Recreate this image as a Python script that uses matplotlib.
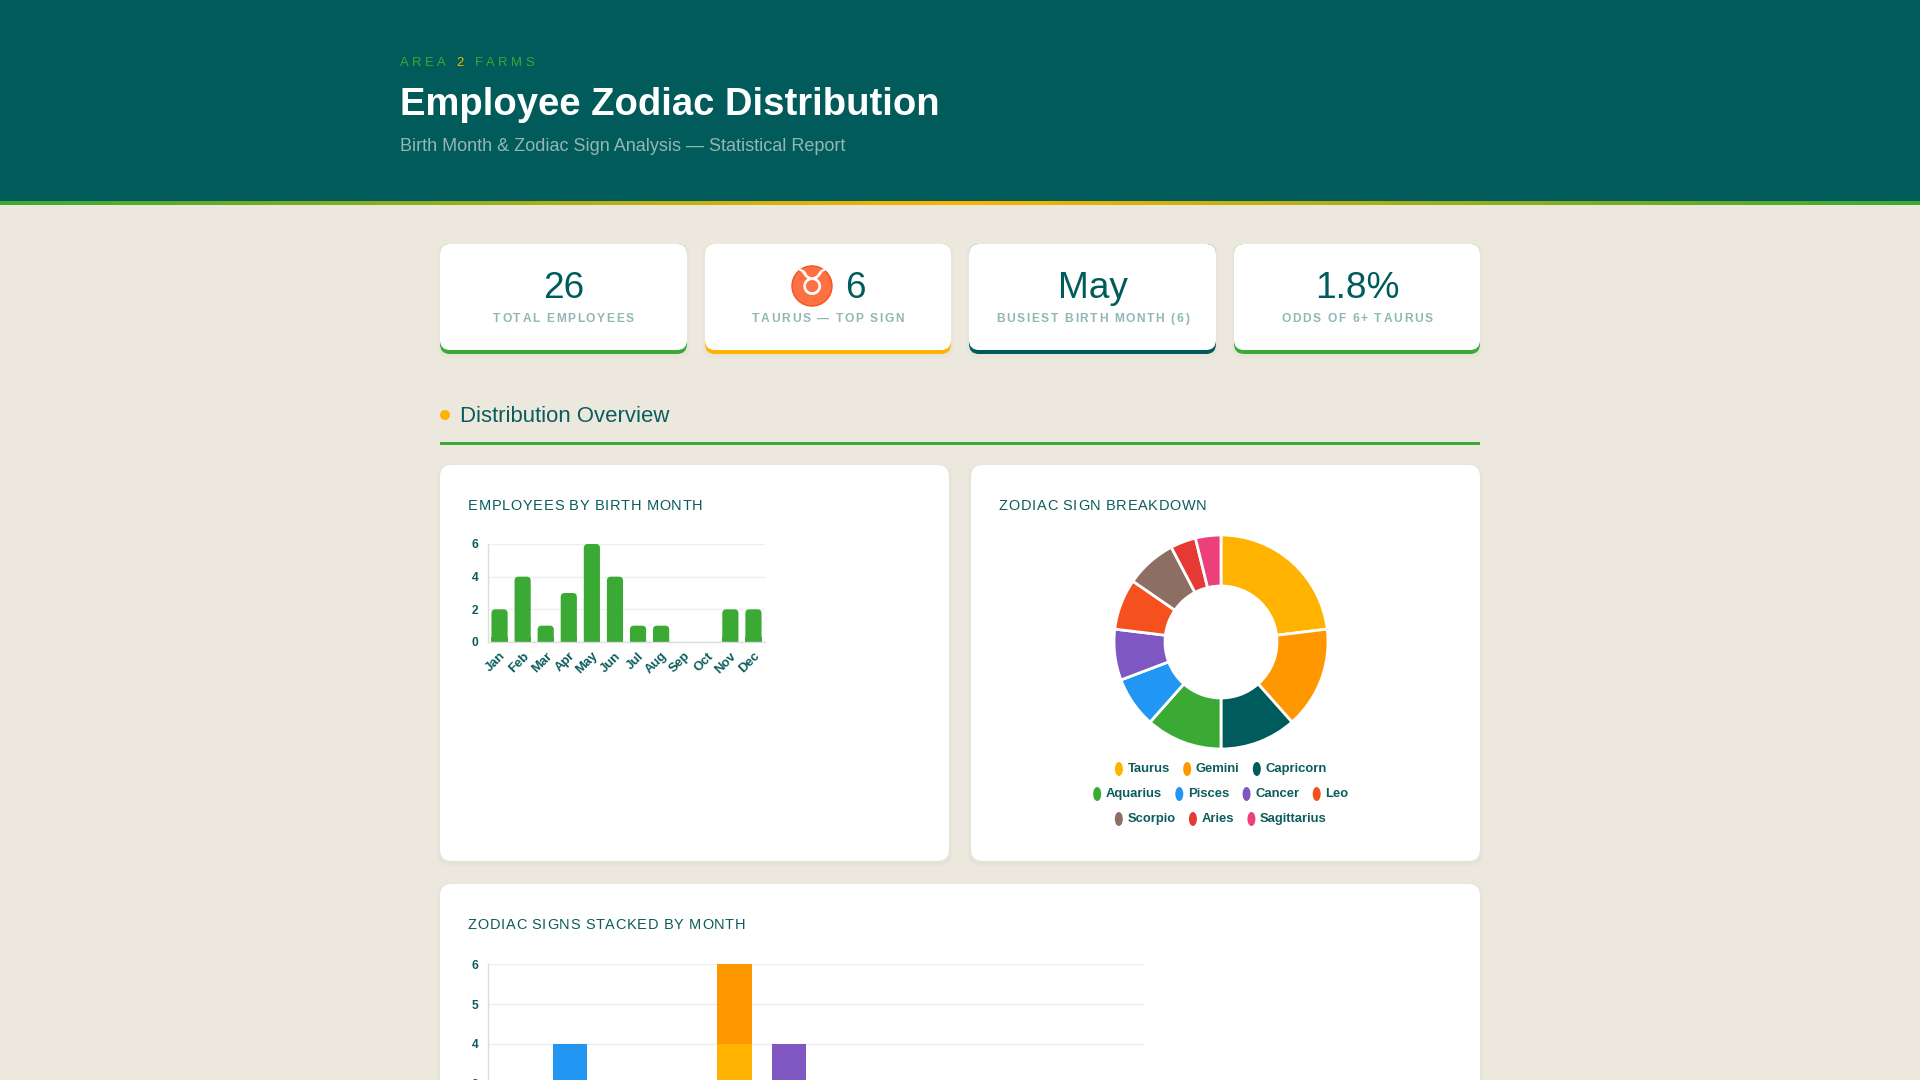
import matplotlib
matplotlib.use("Agg")
import matplotlib.pyplot as plt
from matplotlib.patches import FancyBboxPatch, Circle, Ellipse, Rectangle
from matplotlib.colors import LinearSegmentedColormap
from matplotlib.font_manager import FontProperties
import numpy as np

# ---- data ----
months = ["Jan", "Feb", "Mar", "Apr", "May", "Jun", "Jul", "Aug", "Sep", "Oct", "Nov", "Dec"]
month_counts = [2, 4, 1, 3, 6, 4, 1, 1, 0, 0, 2, 2]

signs = ["Taurus", "Gemini", "Capricorn", "Aquarius", "Pisces", "Cancer", "Leo", "Scorpio", "Aries", "Sagittarius"]
sign_counts = [6, 4, 3, 3, 2, 2, 2, 2, 1, 1]
sign_colors = ["#FFB300", "#FF9800", "#005C5C", "#3AAA35", "#2196F3", "#7E57C2", "#F4511E", "#8D6E63", "#E53935", "#EC407A"]

# per-sign counts by month (Jan..Dec)
by_month = {
    "Taurus":      [0, 0, 0, 2, 4, 0, 0, 0, 0, 0, 0, 0],
    "Gemini":      [0, 0, 0, 0, 2, 2, 0, 0, 0, 0, 0, 0],
    "Capricorn":   [2, 0, 0, 0, 0, 0, 0, 0, 0, 0, 0, 1],
    "Aquarius":    [0, 3, 0, 0, 0, 0, 0, 0, 0, 0, 0, 0],
    "Pisces":      [0, 1, 1, 0, 0, 0, 0, 0, 0, 0, 0, 0],
    "Cancer":      [0, 0, 0, 0, 0, 2, 0, 0, 0, 0, 0, 0],
    "Leo":         [0, 0, 0, 0, 0, 0, 1, 1, 0, 0, 0, 0],
    "Scorpio":     [0, 0, 0, 0, 0, 0, 0, 0, 0, 0, 2, 0],
    "Aries":       [0, 0, 0, 1, 0, 0, 0, 0, 0, 0, 0, 0],
    "Sagittarius": [0, 0, 0, 0, 0, 0, 0, 0, 0, 0, 0, 1],
}

kpi_values = ["26", "6", "May", "1.8%"]
kpi_labels = ["TOTAL EMPLOYEES", "TAURUS \u2014 TOP SIGN", "BUSIEST BIRTH MONTH (6)", "ODDS OF 6+ TAURUS"]
kpi_colors = ["#3AAA35", "#FFB300", "#005C5C", "#3AAA35"]

# ---- style ----
W, H = 1920, 1080
BG = "#ECE8DE"
TEAL = "#005C5C"
TXT = "#0B5C5C"
GREEN = "#3AAA35"
AMBER = "#FFB300"
MUTED = "#8FB8B4"
FONT = "Liberation Sans"
plt.rcParams["font.family"] = [FONT, "DejaVu Sans"]

fig = plt.figure(figsize=(19.2, 10.8), dpi=100, facecolor=BG)
renderer = fig.canvas.get_renderer()


def pt(px):
    return px * 0.72


def fx(x):
    return x / W


def fy(y):
    return 1 - y / H


def rrect(x0, y0, x1, y1, r, color, z=1, alpha=1.0):
    p = FancyBboxPatch((x0 + r, H - y1 + r), x1 - x0 - 2 * r, y1 - y0 - 2 * r,
                       boxstyle=f"round,pad={r}", transform=None, fc=color, ec="none",
                       zorder=z, alpha=alpha)
    fig.patches.append(p)


def card(x0, y0, x1, y1, r=12):
    for i, a in enumerate([0.025, 0.025, 0.02]):
        rrect(x0 - 2 - i, y0 + 1 - i, x1 + 2 + i, y1 + 4 + i, r + 2, "#B8A98A", z=0.5, alpha=a)
    rrect(x0, y0, x1, y1, r, "white", z=1)


def spaced(x, y, s, size, color, spacing, weight="normal", ha="left", colors=None):
    fp = FontProperties(family=FONT, size=pt(size), weight=weight)
    widths = [renderer.get_text_width_height_descent(c, fp, ismath=False)[0] for c in s]
    total = sum(widths) + spacing * (len(s) - 1)
    if ha == "center":
        x = x - total / 2
    for i, c in enumerate(s):
        col = colors[i] if colors else color
        fig.text(fx(x), fy(y), c, fontproperties=fp, color=col, va="baseline", ha="left")
        x += widths[i] + spacing


# ---- header ----
fig.patches.append(Rectangle((0, fy(201)), 1, 1 - fy(201), transform=fig.transFigure,
                             fc="#015B5B", ec="none", zorder=0))
gax = fig.add_axes([0, fy(205), 1, (205 - 201) / H])
gcm = LinearSegmentedColormap.from_list("g", [GREEN, AMBER, GREEN])
gax.imshow(np.linspace(0, 1, 512).reshape(1, -1), aspect="auto", cmap=gcm)
gax.axis("off")

brand = "AREA 2 FARMS"
spaced(400, 66, brand, 13, GREEN, 3.5,
       colors=[AMBER if c == "2" else GREEN for c in brand])
fig.text(fx(400), fy(115), "Employee Zodiac Distribution", fontsize=pt(38.2), weight="bold",
         color="white", va="baseline")
fig.text(fx(400), fy(151), "Birth Month & Zodiac Sign Analysis \u2014 Statistical Report",
         fontsize=pt(18), color="#93B8B3", va="baseline")

# ---- KPI cards ----
kx = [(440, 687), (705, 951), (969, 1216), (1234, 1480)]
for (x0, x1), val, lab, col in zip(kx, kpi_values, kpi_labels, kpi_colors):
    for i, a in enumerate([0.03, 0.025]):
        rrect(x0 - 2 - i, 245 - i, x1 + 2 + i, 358 + i, 12, "#B8A98A", z=0.5, alpha=a)
    rrect(x0, 244, x1, 354, 10, col, z=1)
    rrect(x0, 244, x1, 350, 10, "white", z=1.1)
    cx = (x0 + x1) / 2
    if lab.startswith("TAURUS"):
        fig.patches.append(Circle((812, H - 286), 20, transform=None, fc="#FF7043",
                                  ec="#F4511E", lw=1, zorder=2))
        fig.text(fx(812), fy(285), "\u2649", family="DejaVu Sans", fontsize=pt(36),
                 color="white", ha="center", va="center", weight="bold", zorder=3)
        fig.text(fx(845), fy(298), val, fontsize=pt(37), color=TEAL, ha="left", va="baseline")
    else:
        fig.text(fx(cx), fy(298), val, fontsize=pt(37), color=TEAL, ha="center", va="baseline")
    spaced(cx, 322, lab, 12, MUTED, 1.6, weight="bold", ha="center")

# ---- section heading ----
fig.patches.append(Circle((445, H - 415), 5, transform=None, fc=AMBER, ec="none", zorder=2))
fig.text(fx(460), fy(422), "Distribution Overview", fontsize=pt(22.2), color=TXT, va="baseline")
fig.patches.append(Rectangle((440, H - 445), 1040, 3, transform=None, fc=GREEN, ec="none", zorder=2))

# ---- cards ----
card(440, 465, 949, 861)
card(971, 465, 1480, 861)
card(440, 884, 1480, 1200)
spaced(468, 510, "EMPLOYEES BY BIRTH MONTH", 14.5, TXT, 0.7)
spaced(999, 510, "ZODIAC SIGN BREAKDOWN", 14.5, TXT, 0.7)
spaced(468, 929, "ZODIAC SIGNS STACKED BY MONTH", 14.5, TXT, 0.7)


def style_axes(ax):
    ax.set_facecolor("none")
    ax.set_zorder(5)
    for s in ["top", "right"]:
        ax.spines[s].set_visible(False)
    for s in ["left", "bottom"]:
        ax.spines[s].set_color("#DDDDDD")
        ax.spines[s].set_linewidth(1)
    ax.grid(axis="y", color="#EFEFEF", linewidth=1)
    ax.set_axisbelow(True)
    ax.tick_params(length=0, labelsize=pt(12), labelcolor=TXT, pad=pt(10))
    for t in ax.get_yticklabels() + ax.get_xticklabels():
        t.set_fontweight("bold")


def round_bars(ax, bars, rad_px):
    ax.figure.canvas.draw()
    for b in bars:
        x, y, w, h = b.get_x(), b.get_y(), b.get_width(), b.get_height()
        if h <= 0:
            continue
        p0 = ax.transData.transform((x, y))
        p1 = ax.transData.transform((x + w, y + h))
        sx = w / (p1[0] - p0[0])
        sy = h / (p1[1] - p0[1])
        r = rad_px * sx
        fb = FancyBboxPatch((x + r, y), w - 2 * r, h - r * sy / sx,
                            boxstyle=f"round,pad={r}", mutation_aspect=sy / sx,
                            fc=b.get_facecolor(), ec="none", zorder=2)
        ax.add_patch(fb)
        b.set_visible(False)
        ax.add_patch(Rectangle((x, y), w, min(h, r * sy / sx * 1.2), fc=b.get_facecolor(),
                               ec="none", zorder=2))


# ---- bar chart by month ----
ax1 = fig.add_axes([fx(488), fy(642), (765 - 488) / W, (642 - 544) / H])
bars1 = ax1.bar(months, month_counts, width=0.7, color=GREEN, zorder=2)
ax1.set_xlim(-0.5, 11.5)
ax1.set_ylim(0, 6)
ax1.set_yticks([0, 2, 4, 6])
style_axes(ax1)
ax1.tick_params(axis="x", pad=pt(8), labelsize=pt(13))
plt.setp(ax1.get_xticklabels(), rotation=45, ha="right", rotation_mode="anchor")
round_bars(ax1, bars1, 4)

# ---- donut ----
R = 107
ax2 = fig.add_axes([fx(1221 - R), fy(642 + R), 2 * R / W, 2 * R / H])
ax2.set_zorder(5)
ax2.pie(sign_counts, colors=sign_colors, startangle=90, counterclock=False, radius=1,
        wedgeprops=dict(width=51 / R, edgecolor="white", linewidth=2))
ax2.set_xlim(-1.0, 1.0)
ax2.set_ylim(-1.0, 1.0)
ax2.set_aspect("equal")
ax2.axis("off")

# legend rows (3, 4, 3 items), centred under donut
rows = [signs[0:3], signs[3:7], signs[7:10]]
row_y = [769, 794, 819]
lfp = FontProperties(family=FONT, size=pt(13), weight="bold")
for names, yy in zip(rows, row_y):
    widths = [renderer.get_text_width_height_descent(n, lfp, ismath=False)[0] for n in names]
    item_w = [12 + w for w in widths]
    gap = 14
    total = sum(item_w) + gap * (len(names) - 1)
    x = 1221 - total / 2
    for n, iw in zip(names, item_w):
        c = sign_colors[signs.index(n)]
        fig.patches.append(Ellipse((x + 3.5, H - yy), 8, 14, transform=None, fc=c,
                                   ec="none", zorder=3))
        fig.text(fx(x + 12), fy(yy), n, fontproperties=lfp, color=TXT, va="center",
                 ha="left", zorder=3)
        x += iw + gap

# ---- stacked chart (lower part runs off the page, as in the reference) ----
ax3 = fig.add_axes([fx(488), fy(1204), (1145 - 488) / W, (1204 - 964) / H])
bottom = np.zeros(len(months))
for s, c in zip(signs, sign_colors):
    vals = np.array(by_month[s])
    ax3.bar(months, vals, bottom=bottom, width=0.63, color=c, zorder=2)
    bottom += vals
ax3.set_xlim(-0.5, 11.5)
ax3.set_ylim(0, 6)
ax3.set_yticks([3, 4, 5, 6])
style_axes(ax3)
ax3.tick_params(axis="x", labelbottom=False)

fig.savefig("out.png", dpi=100, facecolor=BG)
